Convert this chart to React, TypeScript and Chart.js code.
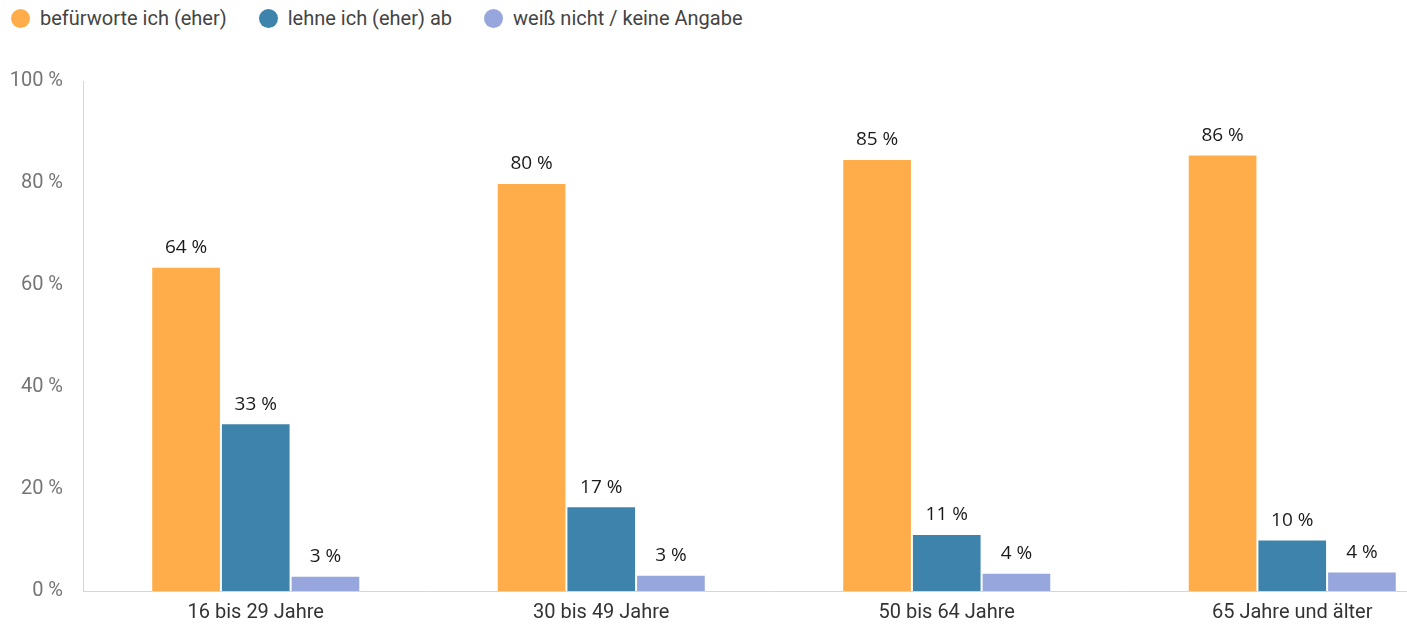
import React, { useEffect, useRef } from "react";
import { Chart, registerables } from "chart.js";

Chart.register(...registerables);

const categories = ["16 bis 29 Jahre", "30 bis 49 Jahre", "50 bis 64 Jahre", "65 Jahre und älter"];
const seriesNames = ["befürworte ich (eher)", "lehne ich (eher) ab", "weiß nicht / keine Angabe"];
const approveValues = [63.6, 80.0, 84.7, 85.6];
const rejectValues = [32.9, 16.6, 11.2, 10.1];
const unknownValues = [3.0, 3.2, 3.6, 3.8];
const seriesColors = ["#FFAD4A", "#3E83AB", "#97A6DC"];
const yTicks = [0, 20, 40, 60, 80, 100];

const valueLabelPlugin = {
  id: "valueLabels",
  afterDatasetsDraw(chart: any) {
    const ctx = chart.ctx;
    ctx.save();
    ctx.font = '19px "Open Sans", sans-serif';
    ctx.fillStyle = "#1a1a1a";
    ctx.textAlign = "center";
    ctx.textBaseline = "middle";
    chart.data.datasets.forEach((ds: any, di: number) => {
      const meta = chart.getDatasetMeta(di);
      meta.data.forEach((bar: any, i: number) => {
        const v = ds.data[i];
        ctx.fillText(Math.round(v) + " %", bar.x, bar.y - 19);
      });
    });
    ctx.restore();
  },
};

export default function App() {
  const canvasRef = useRef<HTMLCanvasElement | null>(null);

  useEffect(() => {
    if (!canvasRef.current) return;
    const seriesData = [approveValues, rejectValues, unknownValues];
    const chart = new Chart(canvasRef.current, {
      type: "bar",
      data: {
        labels: categories,
        datasets: seriesNames.map((name, i) => ({
          label: name,
          data: seriesData[i],
          backgroundColor: seriesColors[i],
          borderColor: "#ffffff",
          borderWidth: 1,
          categoryPercentage: 0.605,
          barPercentage: 1,
        })),
      },
      options: {
        animation: false,
        responsive: false,
        layout: { padding: { top: 81, left: 0, right: 0, bottom: 0 } },
        plugins: {
          legend: { display: false },
          tooltip: { enabled: false },
        },
        scales: {
          x: {
            grid: { display: false, drawTicks: false },
            border: { display: true, color: "#d6d6d6", width: 1 },
            ticks: {
              color: "#333",
              padding: 10,
              font: { family: "Roboto", size: 20 },
            },
            afterFit: (scale: any) => {
              scale.height = 36;
            },
          },
          y: {
            min: 0,
            max: 100,
            grid: { display: false, drawTicks: false },
            border: { display: true, color: "#d6d6d6", width: 1 },
            afterBuildTicks: (scale: any) => {
              scale.ticks = yTicks.map((v) => ({ value: v }));
            },
            ticks: {
              color: "#757575",
              padding: 20,
              font: { family: "Roboto", size: 20 },
              callback: (v: any) => v + " %",
            },
            afterFit: (scale: any) => {
              scale.width = 83;
            },
          },
        },
      },
      plugins: [valueLabelPlugin],
    });
    return () => chart.destroy();
  }, []);

  return (
    <div
      style={{
        position: "absolute",
        left: 0,
        top: 0,
        width: 1407,
        height: 627,
        overflow: "hidden",
        background: "#fff",
      }}
    >
      <div
        style={{
          position: "absolute",
          left: 11,
          top: 6,
          display: "flex",
          alignItems: "center",
          fontFamily: "Roboto, sans-serif",
          fontSize: 20,
          color: "#444",
          whiteSpace: "nowrap",
        }}
      >
        {seriesNames.map((name, i) => (
          <div key={name} style={{ display: "flex", alignItems: "center", marginRight: 32 }}>
            <span
              style={{
                display: "inline-block",
                width: 19,
                height: 19,
                borderRadius: "50%",
                background: seriesColors[i],
                marginRight: 10,
              }}
            />
            <span>{name}</span>
          </div>
        ))}
      </div>
      <canvas ref={canvasRef} width={1465} height={627} style={{ position: "absolute", left: 0, top: 0 }} />
    </div>
  );
}
